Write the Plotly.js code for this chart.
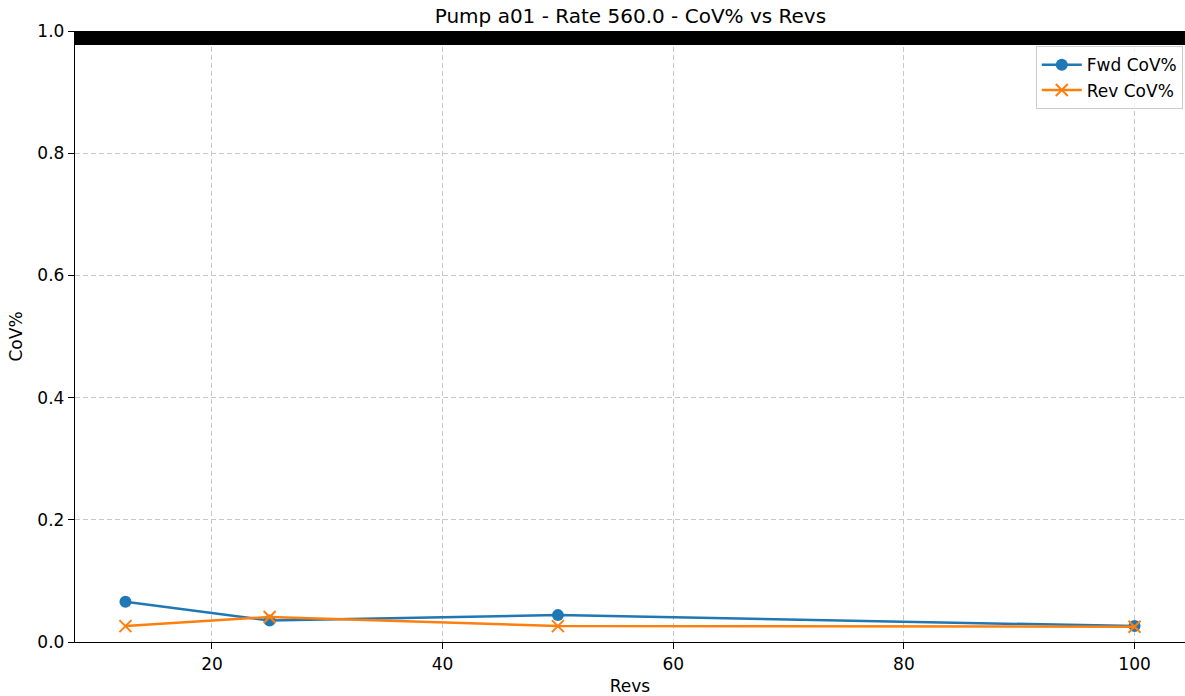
<!DOCTYPE html>
<html><head><meta charset="utf-8">
<script src="https://cdn.plot.ly/plotly-3.0.1.min.js"></script>
<style>html,body{margin:0;padding:0;background:#fff;}#chart{width:1185px;height:696px;}</style>
</head><body><div id="chart"></div>
<script>
const revs = [12.5, 25, 50, 100];
const fwdCov = [0.066, 0.035, 0.044, 0.026];
const revCov = [0.026, 0.041, 0.026, 0.025];
const xTicks = [20, 40, 60, 80, 100];
const yTicks = [0.0, 0.2, 0.4, 0.6, 0.8, 1.0];

const font = 'DejaVu Sans, sans-serif';
const traces = [
  {x: revs, y: fwdCov, name: 'Fwd CoV%', mode: 'lines+markers',
   line: {color: '#1f77b4', width: 2.5}, marker: {symbol: 'circle', size: 12, color: '#1f77b4'}},
  {x: revs, y: revCov, name: 'Rev CoV%', mode: 'lines+markers',
   line: {color: '#ff7f0e', width: 2.5}, marker: {symbol: 'x-thin-open', size: 12, color: '#ff7f0e', line: {width: 2, color: '#ff7f0e'}}}
];
const layout = {
  width: 1185, height: 696,
  margin: {l: 75, r: 0, t: 31, b: 54},
  paper_bgcolor: '#fff', plot_bgcolor: '#fff',
  font: {family: font, size: 17, color: '#000'},
  title: {text: 'Pump a01 - Rate 560.0 - CoV% vs Revs', x: 0.532, xanchor: 'center', y: 0.977, yanchor: 'middle', font: {family: font, size: 20}},
  xaxis: {range: [8.125, 104.375], tickvals: xTicks, ticktext: xTicks.map(String),
    showgrid: true, gridcolor: '#c8c8c8', griddash: '5px,3px', gridwidth: 1,
    showline: true, linecolor: '#000', linewidth: 1.2, ticks: 'outside', ticklen: 6, tickcolor: '#000',
    zeroline: false, title: {text: 'Revs', font: {size: 17}, standoff: 10}},
  yaxis: {range: [0, 1], tickvals: yTicks, ticktext: yTicks.map(v => v.toFixed(1)),
    showgrid: true, gridcolor: '#c8c8c8', griddash: '5px,3px', gridwidth: 1,
    showline: true, linecolor: '#000', linewidth: 1.2, ticks: 'outside', ticklen: 6, tickcolor: '#000',
    zeroline: false, title: {text: 'CoV%', font: {size: 17}, standoff: 10}},
  shapes: [{type: 'rect', xref: 'paper', yref: 'y', x0: 0, x1: 1, y0: 0.977, y1: 1.0,
    fillcolor: '#000', line: {width: 0}, layer: 'above'}],
  legend: {x: 0.998, xanchor: 'right', y: 0.975, yanchor: 'top', bgcolor: 'rgba(255,255,255,0.8)',
    bordercolor: '#cccccc', borderwidth: 1, font: {size: 17}, itemwidth: 40},
  showlegend: true
};
Plotly.newPlot('chart', traces, layout, {displayModeBar: false, staticPlot: true});
</script></body></html>
